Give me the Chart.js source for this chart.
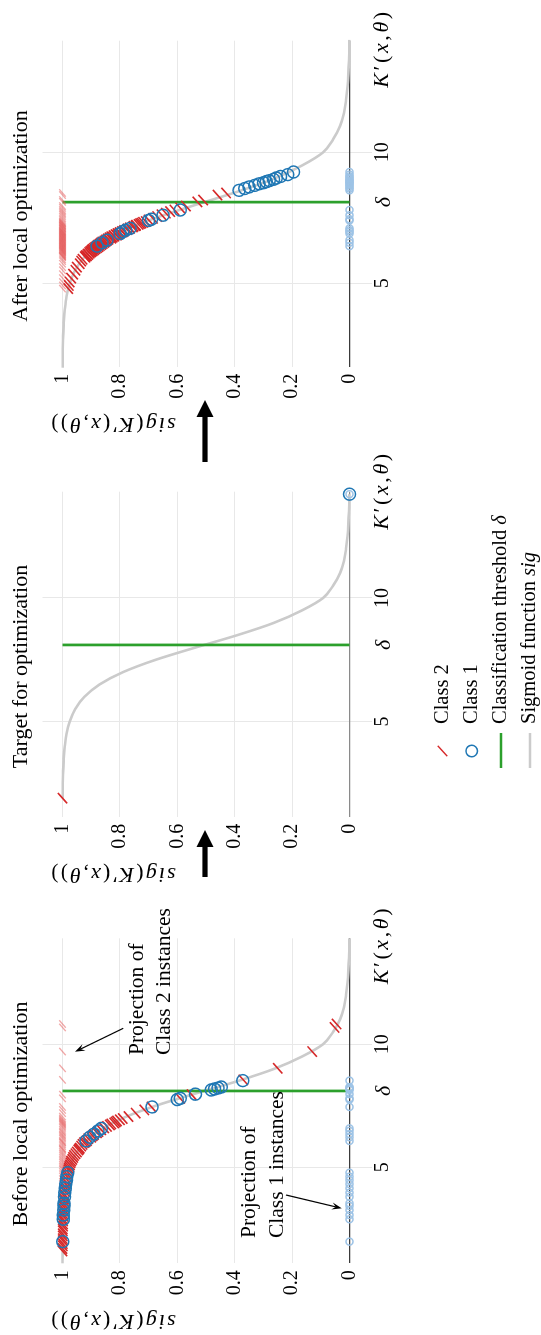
<!DOCTYPE html>
<html><head><meta charset="utf-8">
<script src="https://cdn.jsdelivr.net/npm/chart.js@4.4.1/dist/chart.umd.min.js"></script>
<style>
html,body{margin:0;padding:0;background:#fff;overflow:hidden;width:541px;height:1335px;}
#wrap{position:absolute;left:0;top:0;width:1335px;height:541px;transform-origin:0 0;transform:translate(0,1335px) rotate(-90deg);background:#fff;}
#wrap canvas{position:absolute;left:0;top:0;}
</style></head><body>
<div id="wrap">
<canvas id="c1" width="1335" height="541"></canvas>
<canvas id="c2" width="1335" height="541"></canvas>
<canvas id="c3" width="1335" height="541"></canvas>
</div>
<script>
// ---------- data ----------
const panelTitles = ['Before local optimization', 'Target for optimization', 'After local optimization'];
const kTickValues = [5, 10];
const kTickLabels = ['5', '10'];
const delta = 8.1;
const deltaLabel = 'δ';
const sigTickValues = [0, 0.2, 0.4, 0.6, 0.8, 1];
const sigTickLabels = ['0', '0.2', '0.4', '0.6', '0.8', '1'];
const legendLabels = ['Class 2', 'Class 1', 'Classification threshold ', 'Sigmoid function '];
const legendMath = ['', '', 'δ', 'sig'];

const sigmoidK = [1.1, 1.5, 2, 2.5, 3, 3.5, 4, 4.5, 5, 5.5, 6, 6.5, 7, 7.5, 8, 8.5, 9, 9.5, 10, 10.5, 11, 11.5, 12, 12.5, 13, 13.5, 14, 14.3];
const sigmoidS = [1.0, 0.9995, 0.999, 0.999, 0.998, 0.996, 0.992, 0.986, 0.975, 0.956, 0.924, 0.871, 0.789, 0.675, 0.535, 0.39, 0.262, 0.165, 0.092, 0.057, 0.033, 0.019, 0.012, 0.007, 0.004, 0.002, 0.001, 0.001];

const beforeClass2K = [10.82,10.68,9.70,9.02,8.55,7.95,7.80,7.45,7.33,7.20,7.06,6.98,6.93,6.88,6.84,6.80,6.76,6.72,6.66,6.60,6.52,6.45,6.40,6.33,6.28,6.22,6.16,6.08,6.03,6.00,5.93,5.86,5.78,5.74,5.70,5.62,5.55,5.48,5.40,5.32,5.25,5.18,5.10,5.03,4.96,4.90,4.81,4.72,4.63,4.52,4.41,4.32,4.20,4.11,4.02,3.90,3.81,3.70,3.62,3.50,3.41,3.30,3.22,3.10,3.01,2.90,2.82,2.70,2.61,2.50,2.42,2.30,2.21,2.10,2.02,1.90,1.81,1.70,1.60];
const beforeClass2S = [0.045,0.052,0.13,0.25,0.37,0.55,0.59,0.69,0.715,0.745,0.77,0.79,0.80,0.81,0.815,0.82,0.83,0.835,0.845,0.855,0.865,0.875,0.88,0.89,0.895,0.90,0.91,0.915,0.92,0.925,0.93,0.935,0.94,0.942,0.945,0.95,0.955,0.96,0.963,0.966,0.97,0.972,0.974,0.976,0.978,0.98,0.982,0.984,0.985,0.986,0.988,0.989,0.99,0.991,0.992,0.993,0.993,0.994,0.995,0.995,0.996,0.996,0.997,0.997,0.997,0.998,0.998,0.998,0.998,0.999,0.999,0.999,0.999,0.999,0.999,0.999,0.999,1.0,1.0];
const beforeClass1K = [1.98,2.89,3.06,3.26,3.43,3.54,3.80,3.97,4.15,4.32,4.48,4.62,4.78,6.07,6.22,6.35,6.48,6.58,7.45,7.75,7.80,7.97,8.14,8.18,8.22,8.26,8.52];
const beforeClass1S = [0.999,0.997,0.997,0.996,0.995,0.995,0.993,0.992,0.990,0.989,0.986,0.985,0.982,0.918,0.905,0.89,0.876,0.865,0.688,0.60,0.59,0.537,0.482,0.47,0.458,0.447,0.372];

const targetClass2K = [1.9];
const targetClass2S = [1.0];
const targetClass1K = [14.2];
const targetClass1S = [0.0];

const afterClass2K = [8.45,8.37,8.18,8.11,7.95,7.88,7.80,7.74,7.68,7.62,7.55,7.48,7.42,7.36,7.33,7.30,7.28,7.25,7.22,7.20,7.18,7.15,7.12,7.10,7.08,7.05,7.02,7.00,6.98,6.96,6.94,6.92,6.90,6.88,6.86,6.84,6.82,6.80,6.78,6.76,6.74,6.72,6.70,6.68,6.66,6.64,6.62,6.60,6.58,6.56,6.54,6.52,6.50,6.48,6.46,6.44,6.42,6.40,6.38,6.36,6.34,6.32,6.30,6.28,6.26,6.24,6.22,6.20,6.18,6.15,6.12,6.10,6.06,6.05,6.02,6.00,5.92,5.85,5.75,5.62,5.50,5.35,5.20,5.05,4.92,4.80];
const afterClass2S = [0.43,0.46,0.51,0.53,0.57,0.59,0.61,0.625,0.64,0.655,0.67,0.685,0.70,0.71,0.719,0.725,0.73,0.735,0.744,0.745,0.752,0.755,0.765,0.765,0.773,0.775,0.785,0.785,0.793,0.79,0.80,0.80,0.808,0.805,0.815,0.81,0.822,0.82,0.83,0.825,0.836,0.83,0.842,0.84,0.848,0.845,0.854,0.85,0.861,0.855,0.866,0.86,0.871,0.865,0.876,0.87,0.881,0.875,0.886,0.88,0.89,0.885,0.895,0.89,0.899,0.895,0.903,0.90,0.907,0.905,0.913,0.91,0.919,0.915,0.922,0.92,0.93,0.935,0.94,0.95,0.955,0.963,0.97,0.975,0.978,0.98];
const afterClass1K = [6.42,6.55,6.65,6.90,6.97,7.03,7.10,7.40,7.45,7.60,7.80,8.55,8.62,8.68,8.74,8.80,8.84,8.88,8.92,8.97,9.02,9.08,9.15,9.25];
const afterClass1S = [0.88,0.862,0.845,0.80,0.79,0.78,0.765,0.70,0.69,0.65,0.59,0.385,0.365,0.35,0.33,0.315,0.30,0.29,0.28,0.265,0.255,0.24,0.215,0.195];

// ---------- styles ----------
const SERIF = '"Liberation Serif","Times New Roman",serif';
const RED = '#d62728', RED_L = 'rgba(230,95,95,0.55)', BLUE = '#1f77b4', BLUE_L = '#9dc3e6', GREEN = '#2ca02c', GRAY = '#cbcbcb';
const W = 1335, H = 541, T = 42.5, B = 372, YW = 40, XH = 30;
const sigMin = -0.0784, sigMax = 1.0697;
const MARK_ROT = -42;

function pts(ks, ss) { return ks.map((k, i) => ({x: k, y: ss[i]})); }
function ptsConst(ks, v) { return ks.map(k => ({x: k, y: v})); }

function drawParts(ctx, parts, x, y, size, align, spacing) {
  spacing = spacing || 0;
  ctx.save();
  ctx.textBaseline = 'middle';
  ctx.textAlign = 'left';
  ctx.fillStyle = '#000';
  const fontOf = it => (it ? 'italic ' : '') + size + 'px ' + SERIF;
  const chars = [];
  parts.forEach(([t, it]) => {
    if (spacing) { for (const ch of t) chars.push([ch, it]); } else chars.push([t, it]);
  });
  const widths = chars.map(([t, it]) => { ctx.font = fontOf(it); return ctx.measureText(t).width + spacing; });
  const total = widths.reduce((a, b) => a + b, 0) - spacing;
  let cx = align === 'center' ? x - total / 2 : x;
  chars.forEach(([t, it], i) => { ctx.font = fontOf(it); ctx.fillText(t, cx, y); cx += widths[i]; });
  ctx.restore();
}

function thinArrow(ctx, x0, y0, x1, y1) {
  ctx.save();
  ctx.strokeStyle = '#000'; ctx.fillStyle = '#000'; ctx.lineWidth = 1.2;
  const a = Math.atan2(y1 - y0, x1 - x0), L = 10, Wd = 3.6;
  ctx.beginPath(); ctx.moveTo(x0, y0); ctx.lineTo(x1 - Math.cos(a) * 6, y1 - Math.sin(a) * 6); ctx.stroke();
  ctx.beginPath();
  ctx.moveTo(x1, y1);
  ctx.lineTo(x1 - L * Math.cos(a) + Wd * Math.sin(a), y1 - L * Math.sin(a) - Wd * Math.cos(a));
  ctx.lineTo(x1 - 0.6 * L * Math.cos(a), y1 - 0.6 * L * Math.sin(a));
  ctx.lineTo(x1 - L * Math.cos(a) - Wd * Math.sin(a), y1 - L * Math.sin(a) + Wd * Math.cos(a));
  ctx.closePath(); ctx.fill();
  ctx.restore();
}

function bigArrow(ctx, x0, x1, y) {
  ctx.save();
  ctx.fillStyle = '#000';
  const hl = 17, hw = 8.5, sw = 2.6;
  ctx.fillRect(x0, y - sw, x1 - hl - x0 + 1, 2 * sw);
  ctx.beginPath(); ctx.moveTo(x1, y); ctx.lineTo(x1 - hl, y - hw); ctx.lineTo(x1 - hl, y + hw); ctx.closePath(); ctx.fill();
  ctx.restore();
}

const panels = [
  {id: 'c1', title: panelTitles[0], titleX: 221, kMin: 1.1, kMax: 14.3, L: 71.7, R: 396.7, zero: '#3a3a3a',
   c2K: beforeClass2K, c2S: beforeClass2S, c1K: beforeClass1K, c1S: beforeClass1S, kLabelOff: 46},
  {id: 'c2', title: panelTitles[1], titleX: 668.5, kMin: 1.15, kMax: 14.3, L: 518.3, R: 843.3, zero: '#8a8a8a',
   c2K: targetClass2K, c2S: targetClass2S, c1K: targetClass1K, c1S: targetClass1S, kLabelOff: 38, curveFrom: 1.9, curveTo: 14.2},
  {id: 'c3', title: panelTitles[2], titleX: 1119, kMin: 1.82, kMax: 14.26, L: 968.3, R: 1294.3, zero: '#3a3a3a',
   c2K: afterClass2K, c2S: afterClass2S, c1K: afterClass1K, c1S: afterClass1S, kLabelOff: 47}
];

function extraBefore(ctx) {
  drawParts(ctx, [['Projection of', false]], 280, 137.5, 21.5, 'left');
  drawParts(ctx, [['Class 2 instances', false]], 280, 164, 21.5, 'left');
  thinArrow(ctx, 306.7, 123.3, 283.3, 75);
  drawParts(ctx, [['Projection of', false]], 97, 249, 21.5, 'left');
  drawParts(ctx, [['Class 1 instances', false]], 97, 277.5, 21.5, 'left');
  thinArrow(ctx, 140, 286, 126.7, 341.7);
}

function extraTarget(ctx) {
  bigArrow(ctx, 458, 505, 205);
  const rows = [442.5, 471.7, 501, 530];
  const sx = 584;
  ctx.save(); ctx.strokeStyle = RED; ctx.lineWidth = 1.5;
  const r = MARK_ROT * Math.PI / 180;
  ctx.beginPath(); ctx.moveTo(sx - 7 * Math.cos(r), rows[0] - 7 * Math.sin(r)); ctx.lineTo(sx + 7 * Math.cos(r), rows[0] + 7 * Math.sin(r)); ctx.stroke();
  ctx.strokeStyle = BLUE; ctx.lineWidth = 1.5;
  ctx.beginPath(); ctx.arc(sx, rows[1], 5.8, 0, Math.PI * 2); ctx.stroke();
  ctx.strokeStyle = GREEN; ctx.lineWidth = 2.6;
  ctx.beginPath(); ctx.moveTo(567, rows[2]); ctx.lineTo(602, rows[2]); ctx.stroke();
  ctx.strokeStyle = GRAY; ctx.lineWidth = 2.6;
  ctx.beginPath(); ctx.moveTo(567, rows[3]); ctx.lineTo(602, rows[3]); ctx.stroke();
  ctx.restore();
  legendLabels.forEach((t, i) => {
    const parts = [[t, false]];
    if (legendMath[i]) parts.push([legendMath[i], true]);
    drawParts(ctx, parts, 611, rows[i], 20.5, 'left');
  });
}

function extraAfter(ctx) {
  bigArrow(ctx, 873, 935, 205);
}

function makeChart(p, idx) {
  const from = p.curveFrom !== undefined ? p.curveFrom : p.kMin;
  const to = p.curveTo !== undefined ? p.curveTo : 99;
  const curve = pts(sigmoidK, sigmoidS).filter(d => d.x >= from - 0.45 && d.x <= to + 0.2);
  if (p.curveFrom !== undefined) { curve[0] = {x: p.curveFrom, y: sigmoidS[0]}; }
  if (p.curveTo !== undefined) { curve[curve.length - 1] = {x: p.curveTo, y: 0.001}; }
  const datasets = [
    {label: 'Sigmoid function sig', data: curve, showLine: true, borderColor: GRAY, borderWidth: 2.6, pointRadius: 0,
     cubicInterpolationMode: 'monotone', order: 6, clip: 1},
    {label: 'Classification threshold δ', data: [{x: delta, y: 0}, {x: delta, y: 1}], showLine: true, borderColor: GREEN,
     borderWidth: 2.7, pointRadius: 0, order: 5},
    {label: 'Class 2 projection', data: ptsConst(p.c2K, 1), pointStyle: 'line', pointRotation: MARK_ROT, pointRadius: 5,
     borderColor: RED_L, pointBorderColor: RED_L, pointBorderWidth: 1.3, order: 4, clip: false},
    {label: 'Class 1 projection', data: ptsConst(p.c1K, 0), pointStyle: 'circle', pointRadius: 3.5,
     borderColor: BLUE_L, pointBorderColor: BLUE_L, pointBackgroundColor: 'rgba(255,255,255,0)', pointBorderWidth: 1.5, order: 3, clip: false},
    {label: 'Class 2', data: pts(p.c2K, p.c2S), pointStyle: 'line', pointRotation: MARK_ROT, pointRadius: 7,
     borderColor: RED, pointBorderColor: RED, pointBorderWidth: 1.6, order: 2, clip: false},
    {label: 'Class 1', data: pts(p.c1K, p.c1S), pointStyle: 'circle', pointRadius: 6,
     borderColor: BLUE, pointBorderColor: BLUE, pointBackgroundColor: 'rgba(255,255,255,0)', pointBorderWidth: 1.5, order: 1, clip: false}
  ];
  const deco = {
    id: 'deco' + idx,
    afterDraw(chart) {
      const ctx = chart.ctx, ca = chart.chartArea;
      drawParts(ctx, [[p.title, false]], p.titleX, 21, 22, 'center');
      ctx.save();
      ctx.translate(ca.left - 57, ca.top + 71);
      ctx.rotate(-Math.PI / 2);
      drawParts(ctx, [['sig', true], ['(', false], ['K', true], ['′', false], ['(', false], ['x', true], [',', false], ['θ', true], ['))', false]], 0, 0, 22, 'center', 2.2);
      ctx.restore();
      drawParts(ctx, [['K', true], ['′', false], ['(', false], ['x', true], [',', false], ['θ', true], [')', false]], ca.right - p.kLabelOff, 382.5, 22, 'left', 2.6);
      if (idx === 0) extraBefore(ctx);
      if (idx === 1) extraTarget(ctx);
      if (idx === 2) extraAfter(ctx);
    }
  };
  return new Chart(document.getElementById(p.id), {
    type: 'scatter',
    data: {datasets},
    options: {
      responsive: false, animation: false, devicePixelRatio: 1, events: [],
      layout: {padding: {left: p.L - YW, right: W - p.R, top: T, bottom: H - B - XH}},
      plugins: {legend: {display: false}, tooltip: {enabled: false}, title: {display: false}},
      scales: {
        x: {
          type: 'linear', position: 'bottom', min: p.kMin, max: p.kMax,
          border: {display: false},
          grid: {drawTicks: false, lineWidth: 1, color: c => (c.tick && Math.abs(c.tick.value - delta) < 1e-6) ? 'rgba(0,0,0,0)' : '#e8e8e8'},
          ticks: {
            padding: -1, color: '#000', autoSkip: false, maxRotation: 0, minRotation: 0,
            font: c => ({family: SERIF, size: (c.tick && Math.abs(c.tick.value - delta) < 1e-6) ? 22 : 20, style: (c.tick && Math.abs(c.tick.value - delta) < 1e-6) ? 'italic' : 'normal'}),
            callback: v => Math.abs(v - delta) < 1e-6 ? deltaLabel : kTickLabels[kTickValues.indexOf(v)]
          },
          afterBuildTicks: a => { a.ticks = kTickValues.concat([delta]).sort((m, n) => m - n).map(v => ({value: v})); },
          afterFit: s => { s.height = XH; }
        },
        y: {
          type: 'linear', position: 'left', min: sigMin, max: sigMax,
          border: {display: false},
          grid: {drawTicks: false, color: c => (c.tick && c.tick.value === 0) ? p.zero : '#e8e8e8', lineWidth: c => (c.tick && c.tick.value === 0) ? 1.3 : 1},
          ticks: {padding: 7, color: '#000', font: {family: SERIF, size: 20},
            callback: v => sigTickLabels[sigTickValues.indexOf(v)]},
          afterBuildTicks: a => { a.ticks = sigTickValues.map(v => ({value: v})); },
          afterFit: s => { s.width = YW; }
        }
      }
    },
    plugins: [deco]
  });
}

panels.forEach((p, i) => makeChart(p, i));
</script>
</body></html>
